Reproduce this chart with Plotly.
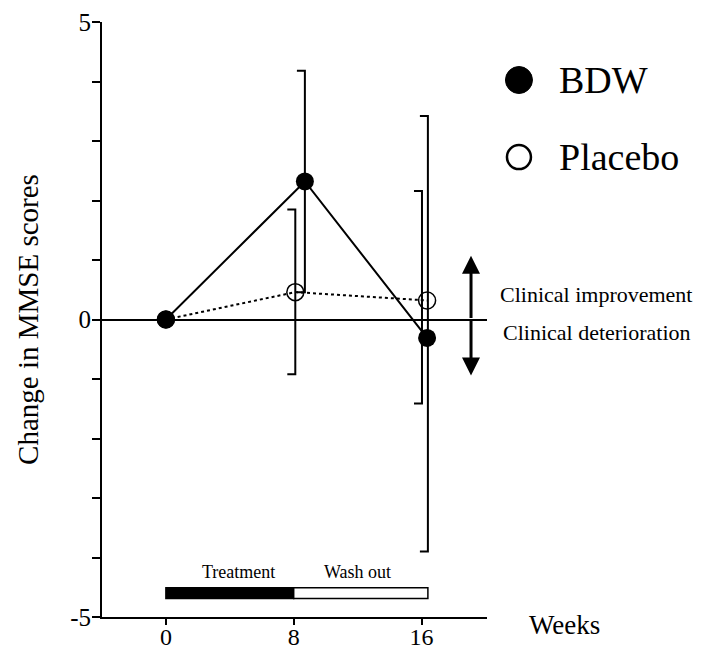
import plotly.graph_objects as go

# ---- data ----
weeks = [0, 8, 16]
bdw_x = [0, 8.7, 16.35]
bdw_mean = [0.0, 2.32, -0.31]
bdw_err_x = [8.7, 16.4]
bdw_upper = [4.18, 3.42]
bdw_lower = [0.46, -3.90]

placebo_x = [0, 8.1, 16.35]
placebo_mean = [0.0, 0.46, 0.32]
placebo_err_x = [8.1, 16.03]
placebo_upper = [1.85, 2.16]
placebo_lower = [-0.92, -1.41]

y_tickvals = list(range(-5, 6))
y_ticktext = ["-5", "", "", "", "", "0", "", "", "", "", "5"]

phase_names = ["Treatment", "Wash out"]
phase_start = [0, 8]
phase_end = [8, 16.4]
phase_fill = ["black", "white"]

FONT = "Liberation Serif, Times New Roman, serif"
CAP = 0.5  # cap length (x units), half caps drawn to the left


def errbar_xy(xs, lo, hi):
    X, Y = [], []
    for x, l, h in zip(xs, lo, hi):
        X += [x - CAP, x, x, x - CAP, None]
        Y += [h, h, l, l, None]
    return X, Y


fig = go.Figure()

# error bars
ex, ey = errbar_xy(bdw_err_x, bdw_lower, bdw_upper)
fig.add_trace(go.Scatter(x=ex, y=ey, mode="lines", line=dict(color="black", width=2),
                         showlegend=False, hoverinfo="skip"))
ex, ey = errbar_xy(placebo_err_x, placebo_lower, placebo_upper)
fig.add_trace(go.Scatter(x=ex, y=ey, mode="lines", line=dict(color="black", width=2),
                         showlegend=False, hoverinfo="skip"))

# placebo
fig.add_trace(go.Scatter(x=placebo_x, y=placebo_mean, mode="lines+markers", name="Placebo",
                         line=dict(color="black", width=2, dash="dot"),
                         marker=dict(symbol="circle-open", size=17, color="black", line=dict(width=1.5)),
                         showlegend=False))
# BDW
fig.add_trace(go.Scatter(x=bdw_x, y=bdw_mean, mode="lines+markers", name="BDW",
                         line=dict(color="black", width=2),
                         marker=dict(symbol="circle", size=18, color="black"),
                         showlegend=False))

shapes = []
for s, e, c in zip(phase_start, phase_end, phase_fill):
    shapes.append(dict(type="rect", xref="x", yref="y", x0=s, x1=e, y0=-4.69, y1=-4.51,
                       fillcolor=c, line=dict(color="black", width=1.5)))

# manual legend symbols
LEG_X = 1.083
shapes.append(dict(type="circle", xref="paper", yref="paper", xsizemode="pixel", ysizemode="pixel",
                   xanchor=LEG_X, yanchor=0.9025, x0=-13.5, x1=13.5, y0=-13.5, y1=13.5,
                   fillcolor="black", line=dict(color="black", width=1)))
shapes.append(dict(type="circle", xref="paper", yref="paper", xsizemode="pixel", ysizemode="pixel",
                   xanchor=LEG_X, yanchor=0.773, x0=-12, x1=12, y0=-12, y1=12,
                   fillcolor="white", line=dict(color="black", width=2.5)))

annotations = []
annotations.append(dict(xref="paper", yref="paper", x=1.182, y=0.9025, text="BDW", showarrow=False,
                        xanchor="left", yanchor="middle", font=dict(size=38, family=FONT, color="black")))
annotations.append(dict(xref="paper", yref="paper", x=1.182, y=0.773, text="Placebo", showarrow=False,
                        xanchor="left", yanchor="middle", font=dict(size=38, family=FONT, color="black")))
annotations.append(dict(xref="paper", yref="paper", x=1.028, y=0.5424, text="Clinical improvement",
                        showarrow=False, xanchor="left", yanchor="middle",
                        font=dict(size=22, family=FONT, color="black")))
annotations.append(dict(xref="paper", yref="paper", x=1.036, y=0.4786, text="Clinical deterioration",
                        showarrow=False, xanchor="left", yanchor="middle",
                        font=dict(size=22, family=FONT, color="black")))
annotations.append(dict(xref="paper", yref="paper", x=1.1039, y=-0.014, text="Weeks",
                        showarrow=False, xanchor="left", yanchor="middle",
                        font=dict(size=27, family=FONT, color="black")))
for name, s, e in zip(phase_names, phase_start, [8, 16]):
    annotations.append(dict(xref="x", yref="y", x=(s + e) / 2 + (0.55 if s == 0 else 0), y=-4.25,
                            text=name, showarrow=False, xanchor="center", yanchor="middle",
                            font=dict(size=18, family=FONT, color="black")))
# double arrow
for ytip in [1.07, -0.94]:
    annotations.append(dict(xref="x", yref="y", x=19.1, y=ytip, axref="x", ayref="y", ax=19.1, ay=0,
                            showarrow=True, arrowhead=2, arrowsize=1.2, arrowwidth=3, arrowcolor="black",
                            text=""))

fig.update_layout(
    width=704, height=654,
    margin=dict(l=102, r=217, t=22, b=37),
    paper_bgcolor="white", plot_bgcolor="white",
    shapes=shapes, annotations=annotations,
    font=dict(family=FONT, color="black"),
    xaxis=dict(range=[-4, 20.1], tickvals=weeks, ticktext=[str(w) for w in weeks],
               ticks="outside", ticklen=6, tickwidth=2, tickcolor="black", automargin=False,
               ticklabelstandoff=-9,
               showline=True, linecolor="black", linewidth=2, showgrid=False, zeroline=False,
               tickfont=dict(size=24, family=FONT, color="black")),
    yaxis=dict(range=[-5, 5], tickvals=y_tickvals, ticktext=y_ticktext, automargin=False,
               ticks="outside", ticklen=8, tickwidth=2, tickcolor="black",
               ticklabelstandoff=-4,
               showline=True, linecolor="black", linewidth=2, showgrid=False,
               zeroline=True, zerolinecolor="black", zerolinewidth=2,
               tickfont=dict(size=25, family=FONT, color="black"),
               title=dict(text="Change in MMSE scores", font=dict(size=29, family=FONT, color="black"),
                          standoff=23)),
)

fig.write_html("out.html")
